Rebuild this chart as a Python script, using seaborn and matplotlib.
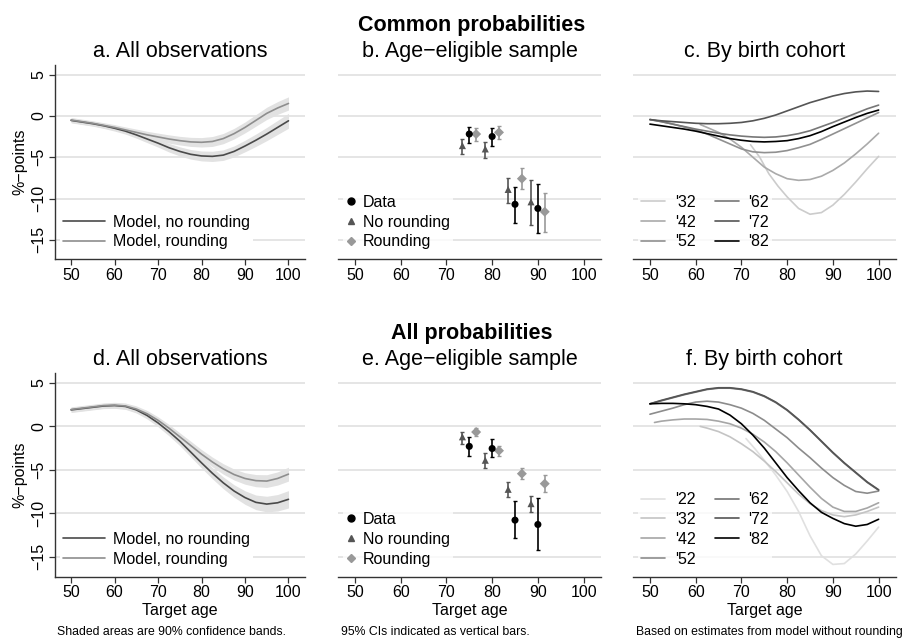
import numpy as np
import pandas as pd
import matplotlib
matplotlib.use("Agg")
import matplotlib.pyplot as plt
from matplotlib.lines import Line2D
import seaborn as sns

sns.set_theme(style="white")
plt.rcParams['font.family'] = ['Liberation Sans', 'DejaVu Sans']
plt.rcParams['axes.unicode_minus'] = True
plt.rcParams['text.color'] = '#000000'
plt.rcParams['axes.labelcolor'] = '#000000'
plt.rcParams['xtick.color'] = '#000000'
plt.rcParams['ytick.color'] = '#000000'

# ---------------- data ----------------
ages = [50, 52.5, 55, 57.5, 60, 62.5, 65, 67.5, 70, 72.5, 75, 77.5, 80,
        82.5, 85, 87.5, 90, 92.5, 95, 97.5, 100]

# Panel a (common probabilities, all observations)
a_norounding = [-0.55, -0.75, -0.95, -1.2, -1.5, -1.85, -2.3, -2.8, -3.3, -3.85, -4.3,
                -4.65, -4.85, -4.9, -4.75, -4.3, -3.65, -2.95, -2.2, -1.4, -0.6]
a_norounding_hw = [0.3, 0.3, 0.3, 0.32, 0.34, 0.36, 0.4, 0.44, 0.48, 0.52, 0.55,
                   0.58, 0.6, 0.62, 0.64, 0.66, 0.7, 0.75, 0.8, 0.85, 0.9]
a_rounding = [-0.5, -0.7, -0.9, -1.15, -1.4, -1.7, -2.0, -2.3, -2.55, -2.8, -3.0,
              -3.15, -3.2, -3.1, -2.75, -2.15, -1.4, -0.55, 0.3, 0.95, 1.5]
a_rounding_hw = [0.3, 0.3, 0.3, 0.32, 0.34, 0.36, 0.4, 0.43, 0.46, 0.5, 0.52,
                 0.55, 0.57, 0.6, 0.62, 0.64, 0.66, 0.7, 0.74, 0.77, 0.8]

# Panel d (all probabilities, all observations)
d_norounding = [1.9, 2.05, 2.2, 2.35, 2.4, 2.3, 1.9, 1.25, 0.4, -0.6, -1.7,
                -2.95, -4.2, -5.4, -6.5, -7.45, -8.2, -8.75, -8.95, -8.8, -8.4]
d_norounding_hw = [0.3, 0.3, 0.3, 0.3, 0.32, 0.34, 0.36, 0.4, 0.44, 0.48, 0.52,
                   0.56, 0.6, 0.64, 0.68, 0.72, 0.78, 0.84, 0.9, 0.95, 1.0]
d_rounding = [1.95, 2.1, 2.25, 2.4, 2.45, 2.35, 2.0, 1.45, 0.7, -0.2, -1.2,
              -2.2, -3.2, -4.1, -4.9, -5.55, -6.0, -6.25, -6.3, -6.0, -5.5]
d_rounding_hw = [0.3, 0.3, 0.3, 0.3, 0.32, 0.34, 0.36, 0.38, 0.4, 0.43, 0.46,
                 0.5, 0.53, 0.56, 0.6, 0.63, 0.66, 0.7, 0.73, 0.76, 0.8]

# Panels b and e (age-eligible sample): estimates with 95% CIs
b_data_x = [75, 80, 85, 90]
b_data_y = [-2.2, -2.5, -10.7, -11.2]
b_data_lo = [-3.3, -3.6, -12.9, -14.2]
b_data_hi = [-1.3, -1.5, -8.6, -8.3]
b_nr_x = [73.5, 78.5, 83.5, 88.5]
b_nr_y = [-3.6, -4.0, -8.9, -10.4]
b_nr_lo = [-4.6, -5.1, -10.5, -13.2]
b_nr_hi = [-2.8, -3.2, -7.5, -7.8]
b_r_x = [76.5, 81.5, 86.5, 91.5]
b_r_y = [-2.2, -2.0, -7.6, -11.6]
b_r_lo = [-3.0, -2.8, -8.9, -14.0]
b_r_hi = [-1.5, -1.2, -6.3, -9.3]

e_data_y = [-2.3, -2.55, -10.8, -11.3]
e_data_lo = [-3.4, -3.5, -12.9, -14.2]
e_data_hi = [-1.2, -1.5, -8.6, -8.3]
e_nr_y = [-1.2, -3.9, -7.25, -8.9]
e_nr_lo = [-2.0, -4.8, -8.1, -9.9]
e_nr_hi = [-0.7, -3.1, -6.4, -8.0]
e_r_y = [-0.65, -2.8, -5.45, -6.6]
e_r_lo = [-1.15, -3.4, -6.1, -7.6]
e_r_hi = [-0.2, -2.3, -4.8, -5.6]

# Panel c (by birth cohort, common probabilities)
c_ages_32 = [72, 74, 76, 78, 80, 82.5, 85, 87.5, 90, 92.5, 95, 97.5, 100]
c_32 = [-3.5, -5.0, -7.0, -8.5, -9.8, -11.2, -11.9, -11.7, -10.8, -9.5, -8.0, -6.4, -4.9]
c_ages_42 = [61, 62.5, 65, 67.5, 70, 72.5, 75, 77.5, 80, 82.5, 85, 87.5, 90, 92.5, 95, 97.5, 100]
c_42 = [-1.05, -1.4, -2.0, -2.8, -3.8, -5.0, -6.2, -7.0, -7.6, -7.8, -7.7, -7.3,
        -6.6, -5.7, -4.6, -3.4, -2.1]
c_52 = [-0.45, -0.7, -1.0, -1.35, -1.7, -2.2, -2.8, -3.4, -4.0, -4.35, -4.45,
        -4.4, -4.2, -3.85, -3.45, -2.85, -2.2, -1.55, -0.9, -0.25, 0.4]
c_62 = [-0.45, -0.7, -1.0, -1.3, -1.6, -1.85, -2.1, -2.3, -2.45, -2.55, -2.6,
        -2.55, -2.4, -2.15, -1.8, -1.3, -0.8, -0.25, 0.3, 0.85, 1.3]
c_72 = [-0.45, -0.6, -0.7, -0.8, -0.9, -0.95, -0.95, -0.9, -0.8, -0.6, -0.3,
        0.1, 0.6, 1.1, 1.6, 2.0, 2.4, 2.7, 2.9, 3.0, 2.95]
c_82 = [-1.0, -1.2, -1.4, -1.6, -1.85, -2.15, -2.45, -2.75, -2.95, -3.1, -3.15,
        -3.1, -3.0, -2.75, -2.4, -1.9, -1.3, -0.75, -0.2, 0.3, 0.7]

# Panel f (by birth cohort, all probabilities)
f_ages_22 = [71, 73, 75, 77.5, 80, 82.5, 85, 87.5, 90, 92.5, 95, 97.5, 100]
f_22 = [-1.4, -2.6, -3.9, -5.6, -7.5, -9.8, -12.6, -14.9, -15.9, -15.8, -14.7, -13.2, -11.6]
f_ages_32 = [61, 62.5, 65, 67.5, 70, 72.5, 75, 77.5, 80, 82.5, 85, 87.5, 90, 92.5, 95, 97.5, 100]
f_32 = [0.0, -0.2, -0.6, -1.2, -2.0, -2.9, -4.0, -5.2, -6.5, -7.8, -8.9, -9.7,
        -10.2, -10.4, -10.2, -9.8, -9.3]
f_ages_42 = [51, 52.5, 55, 57.5, 60, 62.5, 65, 67.5, 70, 72.5, 75, 77.5, 80,
             82.5, 85, 87.5, 90, 92.5, 95, 97.5, 100]
f_42 = [0.45, 0.6, 0.75, 0.85, 0.85, 0.8, 0.6, 0.3, -0.2, -0.9, -1.8, -2.9,
        -4.2, -5.6, -7.0, -8.3, -9.3, -9.8, -9.8, -9.4, -8.8]
f_52 = [1.4, 1.75, 2.1, 2.5, 2.8, 2.9, 2.8, 2.5, 2.1, 1.5, 0.7, -0.3, -1.3,
        -2.5, -3.6, -4.8, -5.9, -6.8, -7.5, -7.7, -7.45]
f_62 = [2.6, 2.95, 3.3, 3.65, 3.95, 4.25, 4.4, 4.4, 4.25, 3.95, 3.45, 2.75, 1.85,
        0.75, -0.45, -1.75, -3.05, -4.25, -5.35, -6.45, -7.35]
f_72 = [2.6, 3.0, 3.35, 3.7, 4.0, 4.3, 4.45, 4.45, 4.3, 4.0, 3.5, 2.8, 1.9,
        0.8, -0.4, -1.7, -3.0, -4.2, -5.3, -6.4, -7.3]
f_82 = [2.6, 2.65, 2.65, 2.6, 2.5, 2.3, 2.0, 1.3, 0.3, -1.0, -2.5, -4.2, -5.9,
        -7.4, -8.8, -9.9, -10.6, -11.2, -11.5, -11.3, -10.7]

cohort_colors_c = {"'32": '#cccccc', "'42": '#aaaaaa', "'52": '#909090',
                   "'62": '#777777', "'72": '#555555', "'82": '#000000'}
cohort_colors_f = {"'22": '#e0e0e0', "'32": '#c4c4c4', "'42": '#a6a6a6', "'52": '#8c8c8c',
                   "'62": '#737373', "'72": '#555555', "'82": '#000000'}

# ---------------- figure ----------------
W, H = 914, 638
fig = plt.figure(figsize=(W / 100, H / 100), dpi=100)


def add_ax(l, t, r, b):
    return fig.add_axes([l / W, 1 - b / H, (r - l) / W, (b - t) / H])


axa = add_ax(55, 65, 305, 259.3)
axb = add_ax(338, 65, 601, 259.3)
axc = add_ax(633, 65, 896, 259.3)
axd = add_ax(55, 373, 305, 577)
axe = add_ax(338, 373, 601, 577)
axf = add_ax(633, 373, 896, 577)

FS_TICK = 11.5
FS_TITLE = 15.5
FS_LEG = 11.5


def style(ax, left):
    ax.set_xlim(46.3, 103.8)
    ax.set_ylim(-17.35, 6.15)
    ax.set_xticks([50, 60, 70, 80, 90, 100])
    ax.set_yticks([5, 0, -5, -10, -15])
    ax.set_yticklabels(['5', '0', '\u22125', '\u221210', '\u221215'],
                       rotation=90, va='center')
    ax.grid(False)
    for yv in [5, 0, -5, -10, -15]:
        ax.axhline(yv, color='#e5e5e5', lw=1.4, zorder=0)
    for s in ['top', 'right']:
        ax.spines[s].set_visible(False)
    ax.spines['bottom'].set_color('#333333')
    ax.spines['bottom'].set_linewidth(1.0)
    ax.tick_params(axis='x', bottom=True, direction='out', length=4, width=0.9,
                   color='#333333', labelsize=FS_TICK, pad=2, labelcolor='#000000')
    if left:
        ax.spines['left'].set_color('#333333')
        ax.spines['left'].set_linewidth(1.0)
        ax.tick_params(axis='y', left=True, direction='out', length=4, width=0.9,
                       color='#333333', labelsize=FS_TICK, pad=2, labelcolor='#000000')
        ax.set_ylabel('%\u2212points', fontsize=FS_TICK, labelpad=3)
    else:
        ax.spines['left'].set_visible(False)
        ax.tick_params(axis='y', left=False, labelleft=False)
        ax.set_ylabel('')
    ax.set_xlabel('')


def band_panel(ax, nr, nr_hw, r, r_hw, title):
    nr = np.array(nr); r = np.array(r)
    ax.fill_between(ages, nr - np.array(nr_hw), nr + np.array(nr_hw),
                    color='#e2e2e2', lw=0, zorder=1)
    ax.fill_between(ages, r - np.array(r_hw), r + np.array(r_hw),
                    color='#e2e2e2', lw=0, zorder=1)
    df = pd.DataFrame({'age': ages * 2,
                       'val': list(nr) + list(r),
                       'model': ['Model, no rounding'] * len(ages) + ['Model, rounding'] * len(ages)})
    sns.lineplot(data=df, x='age', y='val', hue='model', estimator=None, sort=False,
                 palette={'Model, no rounding': '#4a4a4a', 'Model, rounding': '#8e8e8e'},
                 lw=1.2, ax=ax, zorder=3, legend=False)
    handles = [Line2D([], [], color='#4a4a4a', lw=1.2),
               Line2D([], [], color='#8e8e8e', lw=1.2)]
    leg = ax.legend(handles, ['Model, no rounding', 'Model, rounding'], loc='lower left',
                    bbox_to_anchor=(0.02, 0.035), frameon=True, fontsize=FS_LEG,
                    handlelength=2.6, handletextpad=0.5, labelspacing=0.3,
                    borderpad=0.2, borderaxespad=0.0, fancybox=False)
    leg.get_frame().set_facecolor('white')
    leg.get_frame().set_edgecolor('none')
    leg.get_frame().set_alpha(1)
    ax.set_title(title, fontsize=FS_TITLE, pad=6)


def point_panel(ax, data_y, data_lo, data_hi, nr_y, nr_lo, nr_hi, r_y, r_lo, r_hi, title):
    groups = [('No rounding', b_nr_x, nr_y, nr_lo, nr_hi, '#555555'),
              ('Rounding', b_r_x, r_y, r_lo, r_hi, '#999999'),
              ('Data', b_data_x, data_y, data_lo, data_hi, '#000000')]
    rows = []
    for name, xs, ys, lo, hi, col in groups:
        ax.vlines(xs, lo, hi, color=col, lw=1.2, zorder=2)
        ax.hlines(lo, np.array(xs) - 0.45, np.array(xs) + 0.45, color=col, lw=1.0, zorder=2)
        ax.hlines(hi, np.array(xs) - 0.45, np.array(xs) + 0.45, color=col, lw=1.0, zorder=2)
        for x, y in zip(xs, ys):
            rows.append({'age': x, 'val': y, 'grp': name})
    df = pd.DataFrame(rows)
    sns.scatterplot(data=df, x='age', y='val', hue='grp', style='grp',
                    palette={'Data': '#000000', 'No rounding': '#555555', 'Rounding': '#999999'},
                    markers={'Data': 'o', 'No rounding': '^', 'Rounding': 'D'},
                    s=26, linewidth=0, ax=ax, zorder=4, legend=False)
    handles = [Line2D([], [], ls='none', marker='o', color='#000000', ms=5),
               Line2D([], [], ls='none', marker='^', color='#555555', ms=5),
               Line2D([], [], ls='none', marker='D', color='#999999', ms=4.3)]
    leg = ax.legend(handles, ['Data', 'No rounding', 'Rounding'], loc='lower left',
                    bbox_to_anchor=(0.02, 0.035), frameon=True, fontsize=FS_LEG,
                    handlelength=0.6, handletextpad=0.45, labelspacing=0.3,
                    borderpad=0.2, borderaxespad=0.0, fancybox=False)
    leg.get_frame().set_facecolor('white')
    leg.get_frame().set_edgecolor('none')
    ax.set_title(title, fontsize=FS_TITLE, pad=6)


def cohort_panel(ax, series, colors, title):
    rows = []
    for lab, (xs, ys) in series.items():
        for x, y in zip(xs, ys):
            rows.append({'age': x, 'val': y, 'cohort': lab})
    df = pd.DataFrame(rows)
    sns.lineplot(data=df, x='age', y='val', hue='cohort', hue_order=list(series.keys()),
                 estimator=None, sort=False, palette=colors, lw=1.2, ax=ax,
                 zorder=3, legend=False)
    labels = list(series.keys())
    handles = [Line2D([], [], color=colors[l], lw=1.2) for l in labels]
    leg = ax.legend(handles, labels, loc='lower left', ncol=2,
                    bbox_to_anchor=(0.02, 0.035), frameon=True, fontsize=FS_LEG,
                    handlelength=1.5, handletextpad=0.6, labelspacing=0.3,
                    columnspacing=1.2, borderpad=0.2, borderaxespad=0.0, fancybox=False)
    leg.get_frame().set_facecolor('white')
    leg.get_frame().set_edgecolor('none')
    ax.set_title(title, fontsize=FS_TITLE, pad=6)


band_panel(axa, a_norounding, a_norounding_hw, a_rounding, a_rounding_hw, 'a. All observations')
band_panel(axd, d_norounding, d_norounding_hw, d_rounding, d_rounding_hw, 'd. All observations')
point_panel(axb, b_data_y, b_data_lo, b_data_hi, b_nr_y, b_nr_lo, b_nr_hi,
            b_r_y, b_r_lo, b_r_hi, 'b. Age\u2212eligible sample')
point_panel(axe, e_data_y, e_data_lo, e_data_hi, e_nr_y, e_nr_lo, e_nr_hi,
            e_r_y, e_r_lo, e_r_hi, 'e. Age\u2212eligible sample')
cohort_panel(axc, {"'32": (c_ages_32, c_32), "'42": (c_ages_42, c_42), "'52": (ages, c_52),
                   "'62": (ages, c_62), "'72": (ages, c_72), "'82": (ages, c_82)},
             cohort_colors_c, 'c. By birth cohort')
cohort_panel(axf, {"'22": (f_ages_22, f_22), "'32": (f_ages_32, f_32), "'42": (f_ages_42, f_42),
                   "'52": (ages, f_52), "'62": (ages, f_62), "'72": (ages, f_72),
                   "'82": (ages, f_82)},
             cohort_colors_f, 'f. By birth cohort')

for ax, left in [(axa, True), (axb, False), (axc, False), (axd, True), (axe, False), (axf, False)]:
    style(ax, left)

for ax in [axd, axe, axf]:
    ax.set_xlabel('Target age', fontsize=FS_TICK, labelpad=2)

fig.text(472 / W, 1 - 25 / H, 'Common probabilities', ha='center', va='center',
         fontsize=FS_TITLE, fontweight='bold')
fig.text(472 / W, 1 - 333 / H, 'All probabilities', ha='center', va='center',
         fontsize=FS_TITLE, fontweight='bold')

fig.text(57 / W, 1 - 632 / H, 'Shaded areas are 90% confidence bands.', ha='left',
         va='center', fontsize=8.8)
fig.text(341 / W, 1 - 632 / H, '95% CIs indicated as vertical bars.', ha='left',
         va='center', fontsize=8.8)
fig.text(636 / W, 1 - 632 / H, 'Based on estimates from model without rounding', ha='left',
         va='center', fontsize=8.8)

fig.savefig('out.png', dpi=100, facecolor='white')
